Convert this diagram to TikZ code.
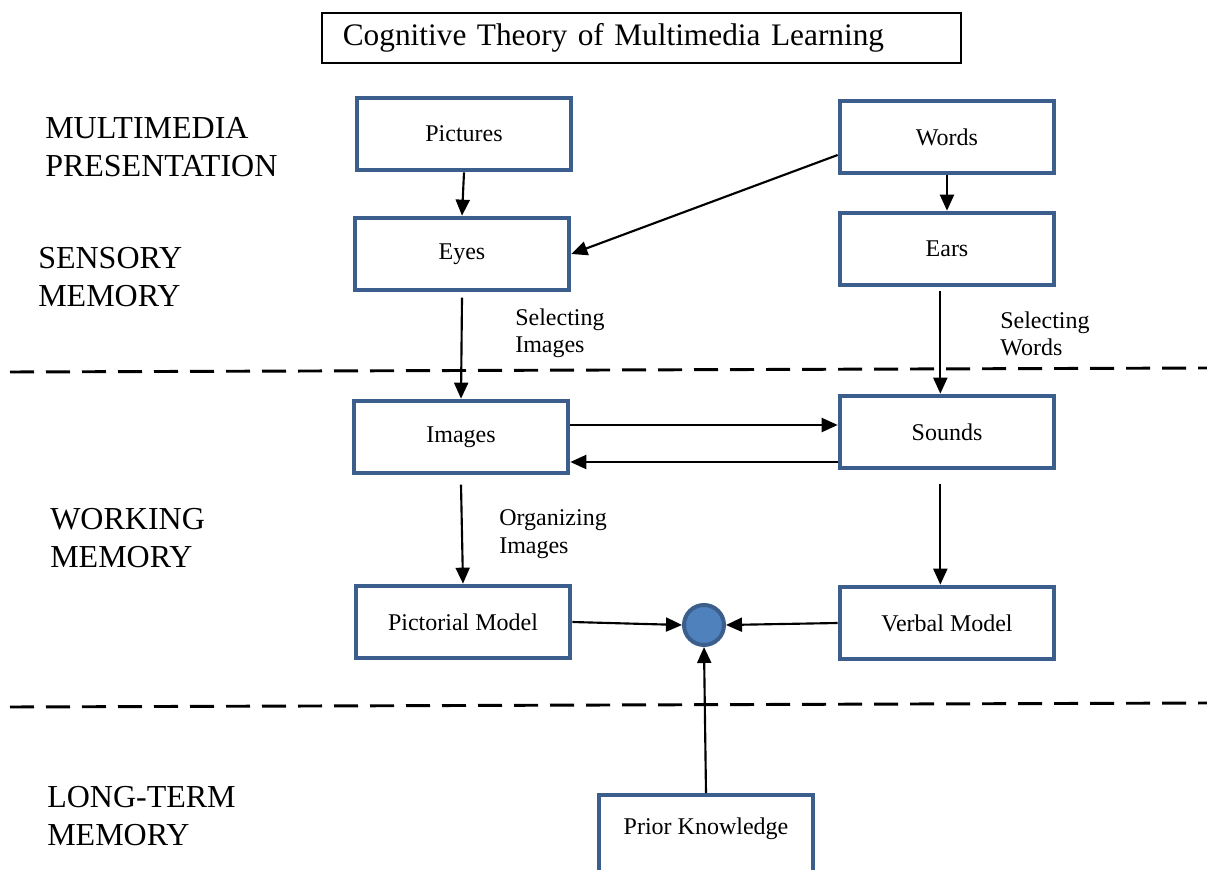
\documentclass[tikz,border=0pt]{standalone}
\usepackage{fontspec}
\setmainfont{Liberation Serif}
\usetikzlibrary{arrows.meta}
\definecolor{boxblue}{RGB}{59,94,140}
\definecolor{dotfill}{RGB}{79,129,189}
\begin{document}
\begin{tikzpicture}[x=0.75pt,y=-0.75pt,
 box/.style={draw=boxblue,line width=3pt,fill=white,minimum width=161pt,minimum height=54.5pt,inner sep=0pt,font=\fontsize{18}{21}\selectfont},
 arr/.style={line width=1.6pt,-{Triangle[length=12pt,width=10.5pt]}},
 lbl/.style={anchor=west,align=left,inner sep=0pt,font=\fontsize{24}{28.5}\selectfont},
 slbl/.style={anchor=west,align=left,inner sep=0pt,font=\fontsize{18}{20.5}\selectfont},
 dashline/.style={line width=2.2pt,dash pattern=on 18pt off 9pt}]
\clip (0,0) rectangle (1207,870);
\fill[white] (0,0) rectangle (1207,870);
% dashed separators
\coordinate (d1a) at (10,372);
\coordinate (d1b) at (1207,368);
\coordinate (d2a) at (10,707);
\coordinate (d2b) at (1207,703);
\draw[dashline] (d1a) -- (d1b);
\draw[dashline] (d2a) -- (d2b);
% title
\node[draw,line width=1.1pt,minimum height=37.5pt,text width=448pt,inner xsep=15.75pt,align=left,font=\fontsize{23.5}{28}\selectfont] (title) at (641.5,38) {Cognitive Theory of Multimedia Learning};
% side labels
\node[lbl] (l1) at (45,147) {MULTIMEDIA\\PRESENTATION};
\node[lbl] (l2) at (38,277) {SENSORY\\MEMORY};
\node[lbl] (l3) at (50,538.5) {WORKING\\MEMORY};
\node[lbl] (l4) at (47,816.5) {LONG-TERM\\MEMORY};
% small labels
\node[slbl] (s1) at (515,333.5) {Selecting\\Images};
\node[slbl] (s2) at (1000,334) {Selecting\\Words};
\node[slbl] (s3) at (499,534) {Organizing\\Images};
% boxes
\node[box] (pic) at (464,134) {Pictures};
\node[box] (words) at (947,137) {Words};
\node[box] (eyes) at (462,254) {Eyes};
\node[box] (ears) at (947,249) {Ears};
\node[box] (images) at (461,437) {Images};
\node[box] (sounds) at (947,432) {Sounds};
\node[box] (pict) at (463,622) {Pictorial Model};
\node[box] (verbal) at (947,623) {Verbal Model};
\node[box,minimum height=67.5pt,text depth=20pt] (prior) at (706,840) {Prior Knowledge};
\node[circle,draw=boxblue,fill=dotfill,line width=3pt,minimum size=30pt,inner sep=0pt] (hub) at (704,625) {};
% arrows
\draw[arr] (pic.south) -- (eyes.north);
\draw[arr] (words.south) -- (ears.north);
\draw[arr] ([yshift=-13.5pt]words.west) -- (eyes.east);
\draw[arr] ([yshift=-4pt]eyes.south) -- (images.north);
\draw[arr] ([xshift=-5pt,yshift=-3pt]ears.south) -- ([xshift=-5pt]sounds.north);
\coordinate (r1) at ([yshift=9pt]images.east);
\draw[arr] (r1) -- (r1 -| sounds.west);
\coordinate (r2) at ([yshift=-18.75pt]images.east);
\draw[arr] (r2 -| sounds.west) -- (r2);
\draw[arr] ([yshift=-7pt]images.south) -- (pict.north);
\draw[arr] ([xshift=-5pt,yshift=-10pt]sounds.south) -- ([xshift=-5pt]verbal.north);
\draw[arr] (pict.east) -- (hub.west);
\draw[arr] (verbal.west) -- (hub.east);
\draw[arr] (prior.north) -- (hub.south);
\end{tikzpicture}
\end{document}
